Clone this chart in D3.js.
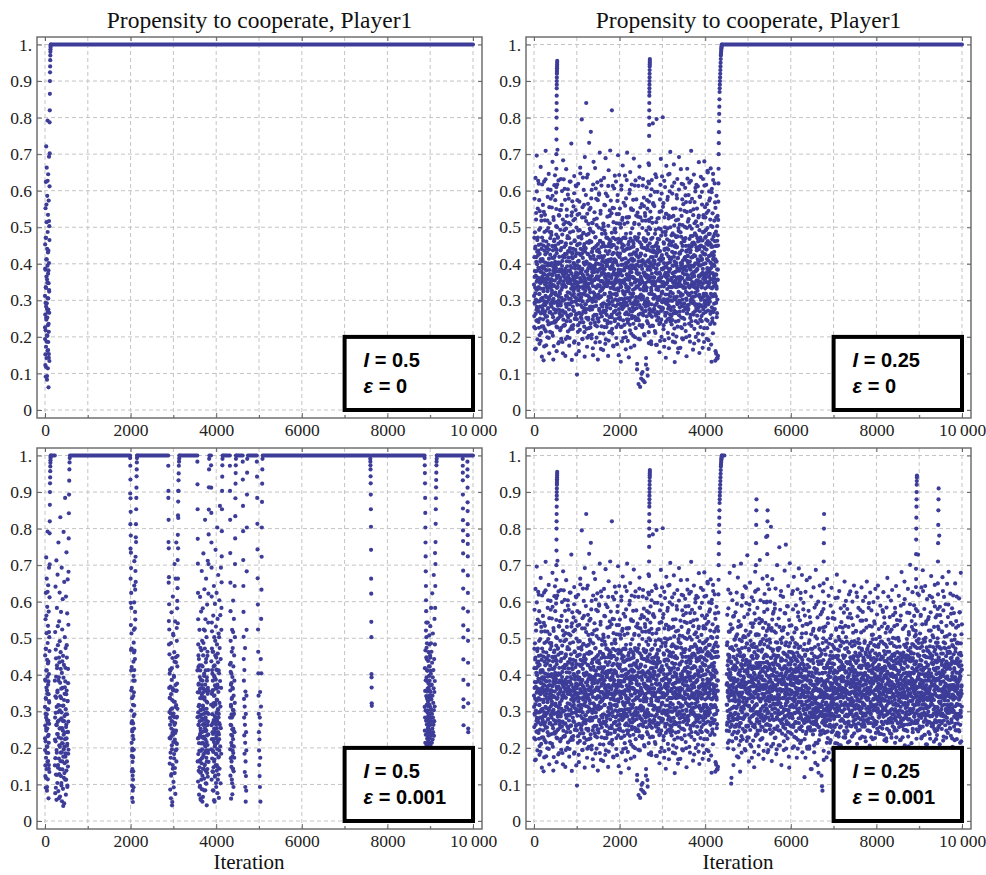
<!DOCTYPE html>
<html>
<head>
<meta charset="utf-8">
<title>Propensity to cooperate, Player1</title>
<script src="https://d3js.org/d3.v7.min.js"></script>
<style>
  body { margin: 0; background: #fff; }
</style>
</head>
<body>
<svg width="986" height="875"></svg>
<script>
// ---- data: propensity in per mille ----
// opening transient of both I = 0.5 runs (from iteration 0 every 2, and from 1 every 4)
var transient = [312,194,453,261,123,384,552,218,91,336,624,471,173,283,721,412,247,142,365,514,663,292,204,83,357,441,586,253,162,395,792,487,306,114,232,534,373,645,186,275,436,62,347,573,214,153,402,693,328,266,503,134,465,612,787,702,
  820,865,900,924,940,957,970,980,987,993,997,1000];
var transient2 = [226,387,152,293,471,118,334,253,562,187,412,276,93,348,203,627,268,431,164,305,382,236,143,517,324];

// I = 0.5, eps = 0.001 : bursts away from full cooperation
var burst230 = [384,223,517,172,641,296,91,445,337,713,194,262,583,418,126,352,674,238,481,153,317,762,275,393,62,546,207,434,625,303,142,378,831,254,462,187,572,336,104,281,
  693,405,213,524,163,364,607,247,452,41,316,791,196,427,273,654,131,348,503,224,884,382,176,473,292,614,113,264,735,357,447,206,568,93,328,661,243,416,184,537,682,773,842,893,931,962,981,993];
var burst230b = [152,283,76,341,218,469,127,395,263,58,312,187,426,238,104,357,271,533,146,298,82,384,229,171,447,316,128,253,492,203,67,341,164,278,416,123,226,362,97,297,
  188,54,254,437,141,315,212,88,273,176,392,236,118,331,48,203,287,158,366,242,113,419,185,306,72,257,347,138,226,481,163,292,211,97,328,244,149,377,272,195];
var burst1990 = [993,972,934,883,846,781,734,692,624,583,513,472,421,364,336,273,245,193,162,124,83,52,113,174,136,224,92,287,195,352,253,316,413,292,466,384,527,443,572,633,551,684,723,654,776,812,763,853,884,912,943,962,981,993,1000];
var burst1990b = [896,812,745,663,597,536,468,412,357,302,268,214,178,136,97,63,142,198,251,176,233,318,267,384,342,436,397,488,523,461,598,644,711];
var burst2880 = [972,903,824,746,667,593,524,456,403,337,282,414,226,368,173,305,487,124,253,571,386,207,43,331,446,272,153,614,357,236,508,294,92,397,183,462,263,703,326,145,
  546,241,372,663,214,434,317,762,196,357,493,285,582,423,637,714,783,836,874,903,932,951,972,983,992,1000];
var burst2880b = [884,763,652,547,483,364,298,227,157,336,263,86,412,187,294,62,347,232,128,273,418,196,308,52,241,363,143,287,512,216,107,327,248,394,171,284,436,131,223,357,
  268,74,312,193,448,247,356,163,283,528,211,376,602,307,452,541,663,746,829,903];
var burst3560 = [983,921,853,772,704,624,552,483,421,373,314,262,443,213,352,164,523,286,93,394,233,613,336,132,474,253,62,363,192,573,304,113,426,243,684,345,172,493,276,53,
  384,214,582,313,143,453,264,732,362,183,524,293,84,403,226,634,332,153,472,254,824,373,204,552,283,103,434,246,663,356,173,503,307,43,393,234,592,324,142,463,263,712,364,193,543,293,622,703,784,852,913,962,991];
var burst3560b = [412,284,163,352,226,108,297,183,453,264,137,376,228,72,318,192,426,147,273,361,96,238,412,167,304,58,247,386,134,291,212,467,158,336,243,87,372,196,281,124,
  423,228,316,66,263,352,178,487,231,143,306,211,397,116,267,338,154,246,521,187,296,84,358,223,412,137,276,193,443,248,102,327,216,163,384,262,131,296,452,208,348,121,272,186,413,237,356,162];
var burst3880 = [973,912,843,762,693,614,543,472,413,354,292,243,463,193,384,134,313,562,224,83,423,273,643,342,163,503,252,53,393,204,594,323,124,453,283,742,363,184,532,264,
  93,414,233,624,332,153,483,274,803,373,214,553,303,113,434,243,673,353,174,513,293,63,404,224,604,323,143,473,263,862,383,204,563,313,103,443,254,693,364,184,523,583,653,724,793,853,903,942,973,991,1000];
var burst3880b = [318,196,437,262,113,348,224,519,171,292,403,136,267,358,84,238,463,189,322,147,276,398,216,57,344,253,168,426,287,121,371,208,493,243,318,152,273,387,104,226,
  447,183,296,362,138,254,413,197,331,76,283,218,458,147,306,242,366,127,283,412,176,237,503,268,193];
var burst4320 = [972,903,824,733,652,574,493,433,373,313,262,214,403,163,334,113,283,523,233,73,364,193,473,304,143,603,253,423,93,343,204,553,293,453,173,384,243,643,323,503,703,773,834,883,923,952,973,991,1000];
var burst4320b = [428,283,196,357,124,263,408,172,318,61,236,377,148,292,463,206,337,103,251,394,176,287,142,362,224,517,186,303,247,136];
var burst4620 = [983,934,862,793,714,643,572,504,443,384,334,283,234,413,184,313,134,263,473,214,93,354,163,53,293,123,243,83,193,343,523,683,803,893,953,991];
var burst4950 = [983,942,884,813,743,664,592,524,463,404,343,293,243,193,153,223,123,283,93,353,173,53,263,443,313,553,404,633,723,803,873,923,962,991];
var burst7600 = [991,983,973,962,943,924,893,853,805,742,663,622,545,503,402,393,365,322,315];
var burst8870 = [993,973,952,924,884,843,803,762,724,683,643,604,574,543,503,474,443,413,383,354,334,303,283,263,243,224,212,203,254,314,232,364,273,423,294,224,343,483,263,384,
  213,313,453,243,533,283,353,204,403,304,583,233,333,463,273,373,214,293,433,623,253,343,223,393,513,283,243,323,413,263,363,673,303,233,443,273,353,553,313,383,483,733,583,643,703,763,813,853,883,913,933,953,973,983,991,1000];
var burst8870b = [312,247,418,283,356,214,467,302,385,236,521,274,342,448,208,393,318,264,486,337,226,411,297,362,543,253,327,438,216,376,289,462,341,231,397,276,508,318,247,423,356,205,372,294,447,263,334,411,238,486,306,372];
var burst9760 = [991,972,953,932,893,855,823,795,766,732,685,636,582,535,502,442,386,333,312,262];
var burst9870 = [983,962,943,912,872,848,812,782,758,724,672,624,573,522,493,433,373,322,253,243];

// I = 0.25 runs: noisy phase from iteration 0, every 4 (cloudA) and every 4 from 2 (cloudA2)
var cloudA = [
  343,227,471,578,294,380,166,442,319,635,263,367,521,418,244,330,696,282,399,465,193,357,551,278,424,
  270,436,352,619,225,493,317,181,388,544,250,406,332,299,665,453,377,211,518,304,390,146,472,269,365,
  413,307,561,248,374,450,136,332,289,625,393,487,221,358,534,270,426,312,709,255,383,177,461,348,294,
  360,256,442,199,325,583,277,401,498,234,370,646,302,439,155,383,267,511,348,214,470,396,602,289,335,
  293,487,371,238,554,320,416,262,679,355,203,447,381,138,304,520,276,462,339,615,243,397,421,318,574,
  450,316,242,389,595,273,367,161,438,334,500,226,712,399,285,473,347,251,628,404,300,186,532,379,265,
  323,547,401,218,354,460,286,632,379,195,443,307,561,258,394,480,336,272,419,155,683,367,231,508,344,
  380,266,492,339,605,233,427,361,148,514,290,456,312,659,375,243,407,531,288,354,200,476,322,589,435,
  253,417,351,578,304,470,176,382,289,625,443,347,221,508,394,260,456,332,729,295,373,137,541,428,314,
  430,336,222,489,365,273,557,401,318,184,640,356,462,249,395,523,297,421,348,614,260,376,152,499,305,
  363,97,451,288,534,340,406,232,619,315,473,387,161,428,264,570,336,492,219,375,663,307,441,358,254,
  300,476,382,249,795,353,527,281,438,194,370,636,332,269,485,403,317,561,228,454,360,146,692,399,275,
  443,267,351,588,314,840,406,222,479,335,173,537,381,298,644,360,426,252,509,345,203,457,731,308,394,
  330,496,282,419,365,553,237,761,388,304,460,196,602,349,275,433,377,511,248,394,150,486,322,679,355,
  283,377,521,318,444,240,396,662,359,185,473,297,411,578,334,260,506,362,229,435,623,307,381,138,454,
  400,316,242,499,365,593,277,431,338,704,210,386,462,309,545,353,167,421,288,614,370,256,482,329,395,
  353,457,291,388,164,510,336,272,449,635,373,227,491,318,404,560,266,362,689,435,193,347,471,288,394,
  260,396,472,339,585,243,427,351,148,504,310,656,372,289,455,213,407,531,348,294,710,386,462,239,365,
  413,307,361,538,254,820,346,452,209,395,613,287,471,338,174,430,376,552,269,385,493,317,641,248,354,
  370,486,272,349,625,403,227,511,318,444,180,366,572,299,425,333,697,251,468,384,150,536,302,419,265,
  303,427,551,248,374,460,336,132,499,285,603,397,351,228,444,520,276,382,669,325,413,197,471,348,294,
  450,286,382,509,315,213,437,641,358,264,470,166,402,579,335,293,527,371,248,704,390,306,442,189,365,
  333,527,261,408,144,460,356,592,299,425,233,377,651,318,484,270,396,552,209,445,343,617,251,388,414,
  270,396,462,329,575,203,447,361,688,294,410,176,512,349,255,473,387,301,628,224,430,356,532,289,375,
  383,247,111,438,354,540,296,472,339,195,613,407,261,508,374,310,666,232,459,345,63,527,281,428,364,
  310,86,452,279,395,563,227,351,498,104,410,306,632,259,375,443,327,581,208,464,340,76,402,539,295,
  423,347,271,518,124,370,466,292,609,335,243,407,551,368,94,440,286,482,389,675,213,357,521,318,264,
  290,456,352,229,495,383,587,271,418,334,180,526,362,629,255,433,317,471,398,784,230,566,342,409,305,
  363,277,431,558,314,400,216,482,349,645,263,387,451,178,514,330,796,292,429,245,373,597,301,468,354,
  440,336,252,399,525,283,467,361,158,434,310,576,372,239,495,353,687,271,418,544,200,386,322,639,295,
  323,487,801,278,414,350,566,232,389,455,303,627,191,438,344,500,266,392,479,365,143,537,291,668,374,
  390,266,442,349,575,303,497,211,368,644,420,286,532,169,385,463,337,251,598,404,310,706,242,459,355,
  273,417,361,528,234,450,336,612,299,395,483,187,551,348,264,430,376,672,309,505,223,407,131,478,354,
  430,306,552,379,265,473,347,201,588,394,310,446,632,289,415,363,157,521,338,244,490,386,692,299,355,
  343,507,281,428,364,170,486,312,659,395,253,457,531,338,224,400,576,302,449,375,193,617,271,468,384,
  290,386,462,249,545,353,417,281,608,334,470,216,392,569,305,433,147,371,498,264,660,346,422,319,515,
  403,277,361,588,314,450,236,622,389,335,503,187,431,358,544,260,476,302,709,395,243,447,321,578,364,
  350,476,292,419,165,533,377,261,458,644,310,396,222,569,345,483,287,421,608,334,200,516,382,279,445,
  313,437,551,258,384,470,336,612,209,405,353,527,281,678,364,440,156,492,309,395,583,247,421,348,464,
  450,286,372,509,335,243,597,411,308,464,170,386,632,359,275,533,427,311,488,224,680,366,442,299,555,
  333,527,401,268,474,350,616,292,439,195,563,377,311,498,244,650,386,452,289,545,343,167,421,598,364,
  380,306,482,579,235,423,357,661,318,504,270,446,132,399,605,333,467,251,538,374,210,646,412,349,475,
  423,367,291,518,394,620,276,462,349,135,553,407,311,488,154,370,586,332,449,265,503,357,141,478,384];
var cloudA2 = [
  312,257,418,364,291,486,335,223,447,379,168,302,539,405,274,351,598,329,433,246,381,297,472,362,627,
  389,241,336,452,297,574,318,205,427,360,283,498,347,189,412,264,379,531,305,441,228,356,617,393,284,
  276,408,351,229,463,325,387,542,298,174,436,371,262,519,344,403,287,631,357,215,446,309,382,491,338,
  431,296,367,518,243,395,332,604,279,452,358,197,414,308,555,372,236,487,341,425,268,399,578,314,346,
  358,479,283,402,327,211,449,369,586,301,437,254,391,528,342,175,416,293,376,466,239,354,642,405,321,
  267,386,441,315,503,379,228,429,296,361,617,248,402,337,471,289,182,455,368,310,533,274,419,350,384,
  402,318,256,493,361,437,293,547,225,385,329,460,271,599,343,408,186,374,521,299,422,247,352,631,377,
  339,446,372,231,418,302,575,386,267,451,194,337,496,363,282,427,548,311,393,259,470,348,604,215,381,
  291,367,512,348,275,433,359,197,406,320,486,243,378,625,305,441,262,356,532,389,229,418,343,571,296,
  415,283,356,441,232,519,327,402,271,593,345,188,464,309,387,251,438,334,547,296,371,612,263,429,350,
  248,396,337,574,302,453,214,372,491,327,181,408,349,266,537,392,300,455,239,361,647,318,424,287,376,
  377,309,469,262,351,428,194,386,555,297,416,338,240,483,366,602,279,447,320,213,398,527,346,433,289,
  326,442,289,379,517,252,405,341,636,276,459,198,371,427,313,564,247,388,335,482,224,399,301,548,357,
  463,274,398,322,226,491,359,414,283,579,348,432,206,367,512,296,381,441,169,339,617,257,422,306,384,
  298,413,355,541,260,388,314,472,232,359,606,337,401,285,449,198,524,366,309,436,250,378,574,342,419,
  357,251,439,306,384,589,272,417,341,186,463,325,398,537,264,352,628,311,446,229,375,495,330,406,283,
  415,333,268,456,378,209,503,347,292,421,561,317,385,246,447,364,181,482,339,592,272,409,356,227,394,
  281,402,346,529,237,371,448,299,613,354,411,190,365,467,308,435,254,546,321,389,278,448,334,573,216,
  446,317,392,261,485,349,222,426,370,553,298,403,176,386,514,332,451,268,606,345,412,243,371,496,303,
  330,467,284,408,359,197,441,314,536,373,262,429,352,588,289,396,234,458,327,510,380,276,643,355,419,
  371,254,428,345,509,291,383,227,466,337,614,304,411,188,368,453,279,526,354,398,245,436,319,567,282,
  298,436,351,233,472,389,305,559,262,415,343,199,482,324,398,267,629,370,441,286,357,513,239,404,336,
  453,325,247,391,334,528,276,442,367,602,218,385,307,469,346,171,413,291,548,377,426,258,363,497,310,
  364,281,408,547,319,236,455,362,289,431,509,275,388,614,332,199,427,351,468,246,395,309,576,338,422,
  279,398,126,336,464,251,372,529,307,418,71,355,245,482,393,636,287,345,193,421,330,554,264,407,316,
  427,302,358,99,445,276,386,518,232,349,614,311,81,403,268,470,335,558,289,376,204,443,367,298,531,
  338,461,283,395,142,327,491,362,256,438,574,305,112,384,449,237,352,625,296,410,183,366,517,274,403,
  392,276,436,318,543,259,402,351,188,468,327,604,289,373,446,231,512,344,418,269,391,562,305,436,352,
  315,447,362,274,408,597,286,433,340,211,493,376,258,421,637,309,386,178,457,331,268,524,397,302,441,
  446,328,264,497,359,412,235,376,542,301,435,189,352,616,281,408,338,477,247,363,592,318,424,273,385,
  279,413,347,556,302,386,221,459,338,402,173,527,369,296,441,610,258,375,316,488,241,392,537,345,427,
  362,294,467,331,401,248,583,356,277,439,316,524,196,378,452,299,646,337,413,262,386,500,323,455,281,
  413,336,257,478,361,299,433,592,246,374,319,461,207,395,531,348,282,419,366,622,271,447,338,185,397,
  302,451,378,242,519,336,402,268,445,361,579,293,387,228,475,344,416,169,498,323,381,603,259,428,349,
  382,269,431,356,293,548,319,402,227,474,341,388,619,284,437,196,361,506,315,409,252,391,563,334,466,
  337,412,292,463,371,234,501,347,418,276,587,323,449,199,382,436,301,542,265,408,359,633,286,421,368,
  274,396,339,522,288,441,359,203,468,318,406,569,252,384,437,296,627,341,417,230,372,496,309,455,347,
  418,301,457,338,392,266,549,371,295,424,182,366,511,336,453,270,401,598,321,379,243,478,352,616,289,
  355,438,273,386,503,326,412,238,461,343,397,190,532,368,289,447,315,584,270,409,351,472,227,396,638,
  301,369,448,257,415,338,562,283,432,375,207,486,347,399,264,527,318,446,186,373,614,292,426,357,471,
  426,283,361,492,318,247,455,372,539,301,413,224,388,654,337,462,272,409,350,191,481,365,297,573,384,
  348,457,296,374,521,263,403,335,452,179,389,316,596,281,429,358,242,501,374,311,447,629,268,415,338,
  398,274,433,359,236,482,317,568,345,412,161,371,449,293,527,338,406,254,141,385,463,302,531,356,148];
var spikeA = [480,550,610,660,700,740,770,800,820,840,860,880,890,900,910,920,925,930,935,940,945,950,955];   // from 520, every 1
var spikeB = [500,570,620,670,710,750,780,800,820,840,860,870,880,890,900,910,920,930,940,945,950,955,960];   // from 2685, every 1
var climb = [450,520,570,620,660,700,730,760,790,810,830,850,870,880,890,900,910,920,930,940,950,960,970,975,980,985,990,993,996,1000]; // from 4300, every 3

// I = 0.25, eps = 0.001 : noisy phase after iteration 4500, every 4 (cloudB) and every 4 from 4502 (cloudB2)
var cloudB = [
  373,247,481,318,564,270,426,352,199,455,633,337,281,518,394,220,446,362,679,305,473,257,401,538,344,
  290,436,102,389,525,263,357,471,218,604,330,416,282,559,375,153,467,311,698,244,390,496,342,279,425,
  413,327,571,258,364,480,226,442,309,625,383,177,511,278,434,350,666,292,469,245,403,547,331,208,374,
  340,496,282,409,135,533,367,451,268,704,310,426,232,589,385,473,297,351,618,224,440,326,502,279,395,
  453,307,381,558,244,410,336,642,289,475,193,377,521,318,434,260,596,352,219,485,363,727,291,408,334,
  260,426,352,509,315,163,467,381,578,274,430,336,652,249,395,493,307,541,368,204,450,286,612,379,415,
  393,287,531,338,444,220,376,602,309,485,353,147,421,568,264,400,316,682,349,475,233,387,511,298,454,
  320,476,272,419,365,583,247,451,338,634,290,396,182,509,375,433,267,541,358,714,300,426,222,489,365,
  433,307,491,368,224,550,396,282,469,335,663,257,411,528,314,170,446,372,599,275,483,347,621,248,384,
  280,406,542,329,455,263,777,371,308,494,210,436,352,579,295,413,647,331,478,194,380,536,262,429,365,
  363,497,251,428,314,600,386,472,239,805,343,447,291,528,164,400,356,662,279,465,333,567,211,398,454,
  410,276,372,519,335,453,227,581,308,434,360,636,252,489,395,183,537,321,448,284,700,356,472,319,385,
  303,467,341,248,554,380,426,292,749,335,473,207,401,578,274,360,496,312,629,445,153,387,521,268,414,
  440,336,502,279,395,613,257,461,358,194,530,306,422,379,685,283,457,341,568,234,400,756,322,489,365,
  273,417,361,588,304,450,226,512,389,335,643,267,431,478,294,550,146,392,359,705,313,487,241,428,374,
  380,316,462,259,535,353,437,621,288,404,200,496,332,579,375,263,457,311,668,394,230,516,342,449,295,
  333,487,271,408,364,590,246,442,319,525,173,387,461,298,634,350,416,222,559,305,473,377,691,268,424,
  450,296,382,549,325,213,477,361,608,284,430,346,502,259,395,673,317,441,188,534,370,276,412,579,355,
  303,427,351,268,484,120,396,562,339,455,293,627,371,238,514,340,416,272,659,365,203,467,311,538,384,
  360,256,442,329,575,283,407,351,198,494,310,666,272,439,385,543,247,471,338,614,290,396,142,459,345,
  283,397,471,248,354,520,306,432,639,265,373,207,451,338,584,290,416,362,159,505,323,687,271,448,384,
  410,336,262,499,375,213,557,301,448,284,600,356,132,429,385,523,257,471,318,644,360,236,452,339,565,
  343,467,291,388,124,430,316,572,269,405,83,487,351,628,274,440,336,192,519,375,303,597,241,418,364,
  270,406,532,319,455,243,367,491,308,174,420,346,662,289,475,383,227,541,338,434,290,616,362,259,485,
  393,307,441,358,214,500,276,412,589,335,463,257,371,638,294,420,166,482,319,555,363,247,451,348,404,
  320,476,262,429,365,553,307,181,448,394,610,286,492,349,235,523,377,451,298,674,310,406,212,469,355,
  443,287,391,338,504,240,466,372,629,305,413,207,531,358,274,480,326,582,259,435,383,157,491,318,364,
  300,416,352,529,275,453,337,191,488,384,570,246,422,319,655,363,287,471,228,534,340,406,602,269,435,
  373,257,491,318,434,580,286,392,349,215,463,307,531,378,264,620,416,332,179,485,293,567,351,448,324,
  260,446,332,409,555,293,377,231,478,354,600,316,422,189,515,273,397,451,328,644,240,386,492,309,365,
  413,307,461,278,374,520,256,432,349,625,293,397,211,488,334,560,366,162,449,315,583,267,401,358,474,
  330,486,362,249,425,303,577,381,278,454,190,516,352,639,295,403,467,231,548,324,370,286,602,439,345,
  293,387,521,358,264,440,316,492,229,405,613,337,461,288,374,550,186,422,349,655,273,397,471,248,364,
  430,276,362,479,335,583,247,411,308,534,380,206,452,359,625,293,487,321,268,444,390,576,312,509,355,
  353,467,281,408,224,510,376,332,599,265,433,317,481,178,394,540,346,272,459,635,303,417,241,498,384,
  270,396,442,319,565,253,367,421,308,644,200,476,332,389,525,283,457,351,238,504,370,416,292,589,335,
  403,327,491,238,374,450,296,532,349,415,163,577,311,448,264,390,626,352,289,485,333,557,221,438,364,
  330,456,272,399,515,303,437,361,218,584,340,476,252,409,665,293,377,531,328,444,190,496,382,279,425,
  463,297,371,558,324,240,486,352,419,275,603,337,441,228,524,380,306,632,269,455,363,187,501,348,394,
  280,416,342,479,255,533,367,301,458,214,570,396,322,499,275,643,357,431,248,384,550,316,462,299,375,
  383,317,501,268,434,350,616,292,409,335,183,477,361,548,284,440,376,222,589,325,453,267,681,398,344,
  300,446,362,229,525,383,277,461,338,594,250,416,482,319,655,353,207,431,378,534,290,476,342,249,405,
  453,337,281,498,364,570,246,422,319,635,383,277,451,348,204,510,376,302,569,265,443,397,701,328,474,
  350,266,462,329,405,213,547,371,298,484,330,626,252,439,385,523,307,171,458,364,590,286,412,349,505,
  293,477,381,538,274,430,346,662,319,225,493,367,411,268,574,330,456,302,729,245,393,487,351,618,424,
  400,326,452,259,375,513,307,441,198,564,350,426,282,639,385,333,477,231,538,364,290,686,412,319,465,
  363,497,271,418,344,580,236,452,319,395,643,287,501,358,434,210,546,372,309,475,263,607,331,448,384,
  310,426,552,299,465,243,387,521,338,414,270,616,362,459,225,493,347,571,288,404,670,326,432,259,375,
  443,287,371,508,334,260,476,392,599,305,433,217,531,358,414,270,646,312,469,245,383,557,361,488,294,
  270,456,342,419,235,563,387,311,488,364,620,256,442,339,525,293,407,781,358,474,210,586,322,439,375,
  393,327,471,288,544,360,436,252,519,315,403,667,291,458,344,220,576,382,489,275,613,337,421,368,504,
  330,486,262,429,375,593,307,451,228,534,350,416,282,649,395,463,317,241,558,364,430,296,682,349,475,
  423,297,511,358,254,460,386,622,319,445,233,567,371,338,494,270,436,582,309,405,203,537,361,478,344,
  300,456,372,569,285,413,337,221,508,394,650,266,472,359,435,293,547,381,248,614,320,486,362,279,445,
  373,267,431,318,534,350,486,292,609,245,423,387,571,338,214,460,396,302,679,285,453,367,511,348,414];
var cloudB2 = [
  318,402,263,377,489,301,356,214,438,341,582,287,415,369,246,453,329,391,518,272,407,345,623,294,386,
  371,289,432,118,354,476,309,391,237,527,346,418,275,365,449,196,384,313,561,258,426,337,292,497,351,
  296,443,331,382,227,505,357,264,419,312,594,368,241,453,329,387,283,531,346,174,402,319,467,374,258,
  412,326,268,461,351,398,219,377,536,303,429,345,187,492,366,281,418,337,612,252,385,449,313,371,506,
  337,391,452,284,366,197,427,318,503,359,246,412,374,638,292,441,327,258,486,351,403,229,379,566,315,
  259,417,348,396,228,471,315,364,592,281,437,356,209,398,517,302,346,423,268,481,339,389,173,452,326,
  384,302,476,341,259,423,368,541,291,405,337,189,462,313,388,256,627,349,418,295,371,508,237,432,358,
  317,446,279,392,357,511,238,426,346,297,467,381,205,419,334,554,272,403,365,483,248,391,327,604,283,
  409,335,258,463,371,291,547,348,416,227,386,312,498,361,274,433,192,387,339,572,301,452,368,246,421,
  286,421,362,507,319,246,434,373,598,305,398,265,451,336,188,476,354,283,419,341,527,298,392,634,327,
  352,276,419,338,488,261,397,315,446,369,204,521,335,414,287,379,551,306,431,243,362,469,322,398,572,
  427,318,371,253,416,339,594,296,368,441,228,387,515,334,279,452,361,196,406,321,488,373,259,427,346,
  293,386,452,329,207,473,345,398,276,531,361,419,247,382,322,617,295,438,354,268,403,487,312,375,239,
  374,441,297,358,522,264,417,336,386,218,458,303,395,569,287,424,349,253,481,372,316,439,198,407,351,
  331,265,408,373,289,453,326,587,244,391,347,428,302,176,463,359,411,283,534,336,398,261,445,312,387,
  416,347,293,439,356,238,502,372,318,461,281,396,629,335,413,257,371,449,204,388,327,476,351,296,428,
  268,394,441,312,528,379,227,418,346,392,269,483,357,305,437,198,362,571,326,409,281,453,338,396,254,
  382,308,359,476,251,417,338,624,291,404,362,219,447,326,381,513,277,432,354,246,392,318,468,343,597,
  307,356,271,418,339,224,387,293,452,318,173,366,412,281,539,327,244,391,305,468,351,198,427,286,363,
  341,252,398,316,487,279,363,204,421,332,296,558,257,376,318,439,142,382,297,511,336,268,406,323,289,
  286,372,319,441,237,358,296,526,271,394,333,188,418,302,367,249,476,329,283,405,214,358,311,592,277,
  363,298,415,264,389,321,153,437,306,358,482,257,379,318,221,403,341,289,527,312,386,246,437,298,351,
  319,384,238,356,297,457,312,95,371,286,404,327,248,529,346,291,382,167,419,305,352,263,468,337,282,
  375,292,346,419,261,383,324,493,273,358,214,427,301,386,338,245,555,312,398,279,361,187,432,317,406,
  298,418,337,264,452,306,377,221,394,343,286,508,325,369,243,431,312,376,197,446,338,289,571,354,321,
  406,331,279,388,349,471,257,412,318,382,213,449,361,297,527,336,408,264,386,319,452,242,374,611,303,
  337,452,306,363,231,419,345,287,496,372,314,438,256,391,339,478,207,365,423,301,544,348,396,279,416,
  382,298,427,341,516,274,393,356,229,446,317,382,589,306,413,268,361,452,324,238,407,349,503,287,372,
  291,408,356,473,315,382,246,431,334,557,289,396,349,272,461,318,402,218,375,347,436,299,628,366,413,
  428,317,386,259,447,336,491,302,368,416,233,379,324,536,285,443,352,407,264,392,315,481,348,197,376,
  356,437,292,408,341,264,519,375,318,452,288,387,613,329,404,247,362,439,308,376,498,282,421,345,311,
  312,381,459,327,226,404,352,548,296,371,418,263,389,337,472,309,425,258,393,346,572,318,402,271,447,
  398,276,373,436,319,487,258,402,361,293,427,341,218,456,382,307,529,349,276,418,331,386,469,297,358,
  337,449,312,268,393,356,596,281,424,347,302,461,378,245,412,326,488,293,367,441,229,382,317,532,405,
  283,376,427,351,497,302,418,334,259,446,383,311,546,275,402,358,227,437,316,389,478,341,265,415,362,
  419,334,271,386,339,452,298,611,357,412,244,376,328,483,301,427,366,289,503,344,396,257,442,318,386,
  362,298,443,317,406,271,368,491,336,253,419,382,303,572,347,285,412,356,236,465,329,397,541,308,423,
  307,418,356,482,289,373,342,226,437,315,392,526,268,404,351,463,297,388,322,614,276,431,359,247,402,
  384,337,269,426,361,518,303,397,448,282,356,419,238,372,487,326,403,292,452,341,259,396,563,318,437,
  426,291,373,341,452,247,398,332,583,306,419,365,284,441,317,392,229,476,351,413,296,537,342,383,268,
  318,402,447,286,368,329,493,257,411,374,302,459,346,221,428,389,312,562,275,397,438,339,264,419,351,
  372,259,338,416,297,453,362,318,528,281,404,349,435,263,387,607,323,371,248,446,309,392,476,336,289,
  298,441,375,312,486,337,264,423,358,399,231,467,326,382,517,292,406,344,279,438,361,593,307,381,446,
  437,328,296,458,341,389,273,531,364,418,302,377,243,446,319,482,356,268,404,337,561,285,429,372,316,
  356,412,268,381,339,509,295,437,362,251,418,326,473,387,302,622,341,394,276,452,318,367,498,287,403,
  291,368,427,336,473,253,386,342,561,308,414,367,226,439,352,293,487,318,402,341,258,376,629,329,418,
  383,307,452,296,367,418,334,236,491,348,402,277,384,539,316,448,363,292,421,337,209,466,352,398,272,
  427,348,289,406,332,558,271,393,356,447,313,238,478,367,402,286,341,521,319,382,453,267,396,331,612,
  336,452,318,371,264,429,345,502,293,386,417,331,252,463,374,308,587,349,276,412,366,439,298,224,389,
  402,287,367,434,311,478,249,386,341,532,302,419,357,273,448,326,391,262,476,338,403,297,563,381,342,
  273,396,342,458,306,381,427,268,517,353,294,412,336,629,287,441,362,231,397,318,474,352,286,408,368,
  358,427,286,339,472,302,391,344,247,436,318,506,371,296,418,352,271,459,329,387,592,306,423,341,267,
  421,312,463,371,297,416,253,387,338,542,301,429,364,278,447,319,396,226,481,346,372,298,437,617,332,
  302,387,341,258,418,369,496,287,432,356,314,463,248,391,337,529,282,406,367,224,442,319,385,488,351,
  367,293,428,346,381,249,457,332,403,286,571,318,392,437,263,409,341,296,486,357,218,426,371,313,538];
var spikeC = [550,630,700,760,810,850,880];                   // from 5180, every 3
var spikeD = [520,600,670,730,780,820,850];                   // from 5440, every 3
var spikeE = [500,580,650,710,760,800,840];                   // from 6760, every 3
var spikeF = [520,580,640,690,730,770,800,830,860,880,900,920,930,940,945];  // from 8920, every 2
var spikeG = [500,580,650,710,760,810,850,880,910];           // from 9430, every 3

// stretches where the propensity sits at 1 (iteration from, to)
var onesTL = [[136, 10000]];
var onesTR = [[4390, 10000]];
var onesBL = [[136,230],[582,1990],[2155,2880],[3144,3560],[3839,3880],[4170,4320],[4470,4620],[4740,4950],[5085,7600],[7640,8870],[9160,10000]];
var onesBR = [[4390, 4450]];

var xTicks = [0, 2000, 4000, 6000, 8000, 10000];
var yTicks = [0, 0.1, 0.2, 0.3, 0.4, 0.5, 0.6, 0.7, 0.8, 0.9, 1];

var panels = [
  {fx: 37, fy: 37, I: "0.5", eps: "0", title: true, xlab: false,
   clusters: [[0, 2, transient], [1, 4, transient2]], ones: onesTL},
  {fx: 526, fy: 37, I: "0.25", eps: "0", title: true, xlab: false,
   clusters: [[0, 4, cloudA], [2, 4, cloudA2], [520, 1, spikeA], [2685, 1, spikeB], [4300, 3, climb]], ones: onesTR},
  {fx: 37, fy: 448, I: "0.5", eps: "0.001", title: false, xlab: true,
   clusters: [[0, 2, transient], [1, 4, transient2], [230, 4, burst230], [232, 4, burst230b], [1990, 3, burst1990], [1992, 3, burst1990b],
              [2880, 4, burst2880], [2882, 4, burst2880b], [3560, 3, burst3560], [3561, 3, burst3560b],
              [3880, 3, burst3880], [3881, 3, burst3880b], [4320, 3, burst4320], [4321, 3, burst4320b],
              [4620, 3, burst4620], [4950, 4, burst4950], [7600, 2, burst7600], [8870, 3, burst8870], [8871, 3, burst8870b],
              [9760, 1, burst9760], [9870, 1, burst9870]], ones: onesBL},
  {fx: 526, fy: 448, I: "0.25", eps: "0.001", title: false, xlab: true,
   clusters: [[0, 4, cloudA], [2, 4, cloudA2], [520, 1, spikeA], [2685, 1, spikeB], [4300, 3, climb],
              [4500, 4, cloudB], [4502, 4, cloudB2],
              [5180, 3, spikeC], [5440, 3, spikeD], [6760, 3, spikeE], [8920, 2, spikeF], [9430, 3, spikeG]], ones: onesBR}
];

var svg = d3.select("svg");
var dotColor = "#3d3d99";
var serif = "'Liberation Serif', 'Times New Roman', serif";
var fw = 445, fh = 381;

panels.forEach(function (p) {
  var x = d3.scaleLinear().domain([0, 10000]).range([p.fx + 8, p.fx + 436]);
  var y = d3.scaleLinear().domain([0, 1]).range([p.fy + 373, p.fy + 7.5]);
  var g = svg.append("g");

  // gridlines
  g.selectAll(".gx").data(d3.range(0, 10001, 1000)).enter().append("line")
    .attr("x1", x).attr("x2", x).attr("y1", p.fy).attr("y2", p.fy + fh)
    .attr("stroke", "#c4c4c4").attr("stroke-dasharray", "4,3");
  g.selectAll(".gy").data(yTicks).enter().append("line")
    .attr("x1", p.fx).attr("x2", p.fx + fw).attr("y1", y).attr("y2", y)
    .attr("stroke", "#c4c4c4").attr("stroke-dasharray", "4,3");

  // stretches at 1
  p.ones.forEach(function (s) {
    g.append("line")
      .attr("x1", x(s[0])).attr("x2", x(s[1]))
      .attr("y1", y(1)).attr("y2", y(1))
      .attr("stroke", dotColor).attr("stroke-width", 4).attr("stroke-linecap", "round");
  });

  // points
  var pts = [];
  p.clusters.forEach(function (c) {
    c[2].forEach(function (v, i) { pts.push({it: c[0] + i * c[1], p: v / 1000}); });
  });
  g.selectAll("circle").data(pts).enter().append("circle")
    .attr("cx", function (d) { return x(d.it); })
    .attr("cy", function (d) { return y(d.p); })
    .attr("r", 2.1)
    .attr("fill", dotColor);

  // axes (ticks pointing inwards)
  var ax = g.append("g").attr("transform", "translate(0," + (p.fy + fh) + ")")
    .call(d3.axisBottom(x).tickValues(xTicks).tickSizeInner(-5).tickSizeOuter(0).tickPadding(6)
      .tickFormat(function (d) { return d === 10000 ? "10\u2009000" : d; }));
  g.append("g").attr("transform", "translate(0," + (p.fy + fh) + ")")
    .call(d3.axisBottom(x).tickValues(d3.range(1000, 10000, 2000)).tickSizeInner(-3).tickSizeOuter(0).tickFormat(""));
  var ay = g.append("g").attr("transform", "translate(" + p.fx + ",0)")
    .call(d3.axisLeft(y).tickValues(yTicks).tickSizeInner(-5).tickSizeOuter(0).tickPadding(5)
      .tickFormat(function (d) { return d === 1 ? "1." : d === 0 ? "0" : d3.format(".1f")(d); }));
  g.append("g").attr("transform", "translate(0," + p.fy + ")")
    .call(d3.axisTop(x).tickValues(xTicks).tickSizeInner(-4).tickSizeOuter(0).tickFormat(""));
  g.append("g").attr("transform", "translate(" + (p.fx + fw) + ",0)")
    .call(d3.axisRight(y).tickValues(yTicks).tickSizeInner(-4).tickSizeOuter(0).tickFormat(""));
  g.selectAll(".domain").remove();
  g.selectAll(".tick line").attr("stroke", "#666");
  [ax, ay].forEach(function (a) {
    a.selectAll("text").attr("font-family", serif).attr("font-size", 17.5).attr("fill", "#222");
  });

  // frame
  g.append("rect").attr("x", p.fx).attr("y", p.fy).attr("width", fw).attr("height", fh)
    .attr("fill", "none").attr("stroke", "#666").attr("stroke-width", 1.4);

  // legend box
  var bx = x(7000), by = y(0.2);
  g.append("rect").attr("x", bx).attr("y", by)
    .attr("width", x(10000) - bx).attr("height", y(0) - by)
    .attr("fill", "#fff").attr("stroke", "#000").attr("stroke-width", 4);
  var t1 = g.append("text").attr("x", bx + 19).attr("y", by + 30)
    .attr("font-family", "'Liberation Sans', Arial, sans-serif").attr("font-weight", "bold").attr("font-size", 20);
  t1.append("tspan").attr("font-style", "italic").text("I");
  t1.append("tspan").text(" = " + p.I);
  var t2 = g.append("text").attr("x", bx + 19).attr("y", by + 56)
    .attr("font-family", "'Liberation Sans', Arial, sans-serif").attr("font-weight", "bold").attr("font-size", 20);
  t2.append("tspan").attr("font-style", "italic").text("\u03b5");
  t2.append("tspan").text(" = " + p.eps);

  if (p.title) {
    svg.append("text").attr("x", p.fx + fw / 2).attr("y", 28)
      .attr("text-anchor", "middle").attr("font-family", serif).attr("font-size", 23.5)
      .attr("fill", "#111").text("Propensity to cooperate, Player1");
  }
  if (p.xlab) {
    svg.append("text").attr("x", x(5000) - 10).attr("y", 869)
      .attr("text-anchor", "middle").attr("font-family", serif).attr("font-size", 21)
      .attr("fill", "#111").text("Iteration");
  }
});
</script>
</body>
</html>
